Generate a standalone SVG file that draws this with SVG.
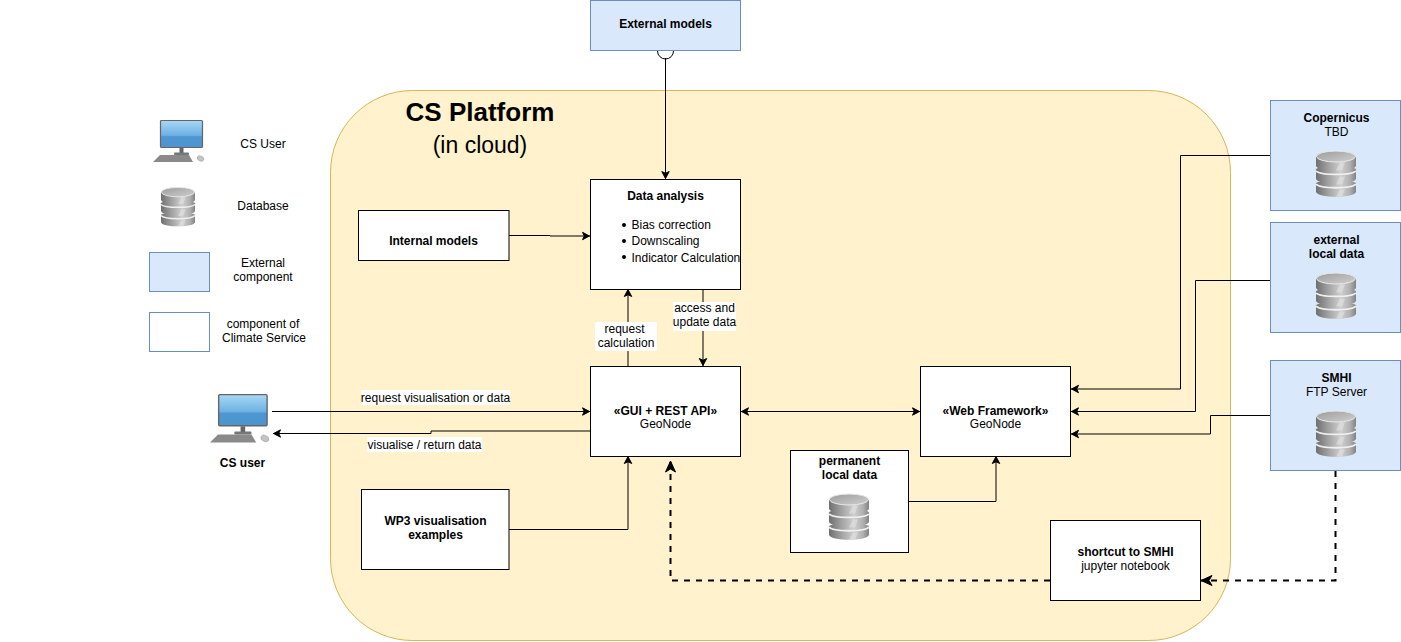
<svg xmlns="http://www.w3.org/2000/svg" width="1401" height="642" viewBox="0 0 1401 642">
<style>
text{font-family:"Liberation Sans",Arial,sans-serif;font-size:12px;fill:#000;text-anchor:middle}
.b{font-weight:bold}
.n{fill:#fff;stroke:#000;stroke-width:1}
.e{fill:#dae8fc;stroke:#6c8ebf;stroke-width:1}
.c{fill:none;stroke:#000;stroke-width:1}
.a{marker-end:url(#arr)}
.d{fill:none;stroke:#000;stroke-width:2;stroke-dasharray:6 6;marker-end:url(#arrb)}
.l{fill:#fff;stroke:none}
</style>
<defs>
<marker id="arr" markerUnits="userSpaceOnUse" markerWidth="10" markerHeight="10" refX="8.500" refY="5" orient="auto"><path d="M1 1.300L8 5L1 8.700L2.800 5Z" fill="#000" stroke="#000" stroke-width="1"/></marker>
<marker id="arrs" markerUnits="userSpaceOnUse" markerWidth="10" markerHeight="10" refX="1.500" refY="5" orient="auto"><path d="M9 1.300L2 5L9 8.700L7.200 5Z" fill="#000" stroke="#000" stroke-width="1"/></marker>
<marker id="arrb" markerUnits="userSpaceOnUse" markerWidth="14" markerHeight="14" refX="12" refY="7" orient="auto"><path d="M1 2L12 7L1 12L4 7Z" fill="#000" stroke="#000" stroke-width="1"/></marker>
<linearGradient id="dbg" x1="0" x2="1" y1="0" y2="0"><stop offset="0" stop-color="#6f6f6f"/><stop offset=".3" stop-color="#a0a0a0"/><stop offset=".62" stop-color="#cfcfcf"/><stop offset=".85" stop-color="#b0b0b0"/><stop offset="1" stop-color="#828282"/></linearGradient>
<linearGradient id="dbt" x1="0" x2="1" y1="0" y2="1"><stop offset="0" stop-color="#9c9c9c"/><stop offset="1" stop-color="#cfcfcf"/></linearGradient>
<linearGradient id="scr" x1="0" x2="0" y1="0" y2="1"><stop offset="0" stop-color="#a9d8f5"/><stop offset=".55" stop-color="#6cb1e3"/><stop offset=".6" stop-color="#4f96d2"/><stop offset="1" stop-color="#4d95cf"/></linearGradient>
<symbol id="db" viewBox="0 0 40 47" overflow="visible">
<path d="M0 33C0 29 40 29 40 33V41C40 48 0 48 0 41Z" fill="url(#dbg)"/>
<path d="M0 33.500C4 38.500 36 38.500 40 33.500" fill="none" stroke="#f0f0f0" stroke-width="1.800"/>
<path d="M0 19C0 15 40 15 40 19V28C40 35 0 35 0 28Z" fill="url(#dbg)"/>
<path d="M0 20.500C4 25 36 25 40 20.500" fill="none" stroke="#f0f0f0" stroke-width="1.800"/>
<path d="M0 6V15C0 22 40 22 40 15V6Z" fill="url(#dbg)"/>
<path d="M24 12L29 12L26 20L20 20Z M24 26L29 26L26 34L20 34Z M24 39L29 39L26 46L20 46Z" fill="#e2e2e2" opacity=".6"/>
<ellipse cx="20" cy="6" rx="19.500" ry="5.500" fill="url(#dbt)" stroke="#e8e8e8" stroke-width="1"/>
</symbol>
<symbol id="pc" viewBox="0 0 52 42" overflow="visible">
<rect x="7.500" y=".5" width="42" height="27" rx="1" fill="url(#scr)" stroke="#666" stroke-width="1.200"/>
<rect x="26.500" y="28" width="4" height="5" fill="#666"/>
<rect x="21" y="32.500" width="15" height="2.500" rx="1" fill="#777"/>
<path d="M7 35H36L40 42H0Z" fill="#8a8a8a"/>
<ellipse cx="47.500" cy="38.500" rx="3.500" ry="2.500" fill="#c4c4c4" stroke="#999" stroke-width=".5" transform="rotate(25 47.500 38.500)"/>
</symbol>
</defs>

<g id="platform">
<rect x="330.500" y="90.500" width="900" height="550" rx="82" fill="#fff2cc" stroke="#d6b656"/>
<text x="480" y="121" class="b" style="font-size:26px">CS Platform</text>
<text x="480" y="153" style="font-size:23px">(in cloud)</text>
</g>

<g id="legend">
<use href="#pc" x="153" y="120" width="52" height="42"/>
<text x="263" y="148">CS User</text>
<use href="#db" x="161" y="186" width="34" height="42"/>
<text x="263" y="210">Database</text>
<rect x="149.500" y="252.500" width="60" height="39" class="e"/>
<text x="263" y="267">External</text>
<text x="263" y="281">component</text>
<rect x="149.500" y="312.500" width="60" height="39" fill="#fff" stroke="#6c8ebf"/>
<text x="263" y="328">component of</text>
<text x="264" y="342">Climate Service</text>
</g>

<g id="connectors">
<path class="c a" d="M665.500 58V179"/>
<path class="c" d="M657.500 51A8 8 0 0 0 673.500 51"/>
<path class="c a" d="M509 235.500H550V236H590"/>
<path class="c a" d="M628 366V289"/>
<path class="c a" d="M703 290V366"/>
<path class="c a" d="M272 411.500H590"/>
<path class="c a" d="M590 431H431V433.500H273"/>
<path class="c a" d="M509 529.500H628V456"/>
<path class="c a" style="marker-start:url(#arrs)" d="M741 411.500H920"/>
<path class="c a" d="M909 501.500H996V456"/>
<path class="c a" d="M1270 155.500H1180.500V389H1071"/>
<path class="c a" d="M1270 280.500H1195.500V411.500H1071"/>
<path class="c a" d="M1270 415.500H1210.500V434H1071"/>
<path class="d" d="M1335.500 471V580.500H1201"/>
<path class="d" d="M1050 580.500H670.500V461"/>
<rect class="l" x="595" y="322" width="62" height="29"/>
<text x="624.500" y="333">request</text>
<text x="626" y="347">calculation</text>
<rect class="l" x="673" y="302" width="63" height="29"/>
<text x="704.500" y="312">access and</text>
<text x="704.500" y="326">update data</text>
<rect class="l" x="361" y="390" width="149" height="15"/>
<text x="435.500" y="402">request visualisation or data</text>
<rect class="l" x="367" y="437" width="115" height="15"/>
<text x="424.500" y="449">visualise / return data</text>
</g>

<g id="external-models"><rect x="590.500" y=".5" width="150" height="50" class="e"/><text x="665.500" y="28" class="b">External models</text></g>

<g id="data-analysis"><rect x="590.500" y="179.500" width="150" height="110" class="n"/>
<text x="665.500" y="200" class="b">Data analysis</text>
<circle cx="624" cy="225" r="2" fill="#000"/><circle cx="624" cy="241" r="2" fill="#000"/><circle cx="624" cy="257" r="2" fill="#000"/>
<text x="631.500" y="229" style="text-anchor:start">Bias correction</text>
<text x="631.500" y="245" style="text-anchor:start">Downscaling</text>
<text x="631.500" y="262" style="text-anchor:start">Indicator Calculation</text></g>

<g id="internal-models"><rect x="358.500" y="210.500" width="150.500" height="50" class="n"/><text x="433.500" y="245" class="b">Internal models</text></g>

<g id="gui"><rect x="590.500" y="366.500" width="150" height="90" class="n"/><text x="665.500" y="415" class="b">«GUI + REST API»</text><text x="665.500" y="428">GeoNode</text></g>

<g id="web-framework"><rect x="920.500" y="366.500" width="150" height="90" class="n"/><text x="995.500" y="415" class="b">«Web Framework»</text><text x="995.500" y="428">GeoNode</text></g>

<g id="cs-user"><use href="#pc" x="210" y="394" width="60" height="48.500"/><text x="242.500" y="467" class="b">CS user</text></g>

<g id="wp3"><rect x="361.500" y="489.500" width="147.500" height="80" class="n"/><text x="435.500" y="525" class="b">WP3 visualisation</text><text x="435.500" y="539" class="b">examples</text></g>

<g id="permanent"><rect x="790.500" y="450.500" width="118" height="102" class="n"/><text x="849.500" y="465" class="b">permanent</text><text x="849.500" y="479" class="b">local data</text><use href="#db" x="829" y="493" width="40" height="48"/></g>

<g id="shortcut"><rect x="1050.500" y="520.500" width="150" height="80" class="n"/><text x="1125.500" y="556" class="b">shortcut to SMHI</text><text x="1125.500" y="570">jupyter notebook</text></g>

<g id="copernicus"><rect x="1270.500" y="100.500" width="130" height="110" class="e"/><text x="1336.500" y="122" class="b">Copernicus</text><text x="1336.500" y="136">TBD</text><use href="#db" x="1316" y="150" width="40" height="48"/></g>

<g id="external-local"><rect x="1270.500" y="222.500" width="130" height="110" class="e"/><text x="1336.500" y="244" class="b">external</text><text x="1336.500" y="258" class="b">local data</text><use href="#db" x="1316" y="272" width="40" height="48"/></g>

<g id="smhi"><rect x="1270.500" y="360.500" width="130" height="110" class="e"/><text x="1336.500" y="382" class="b">SMHI</text><text x="1336.500" y="396">FTP Server</text><use href="#db" x="1316" y="410" width="40" height="48"/></g>
</svg>
